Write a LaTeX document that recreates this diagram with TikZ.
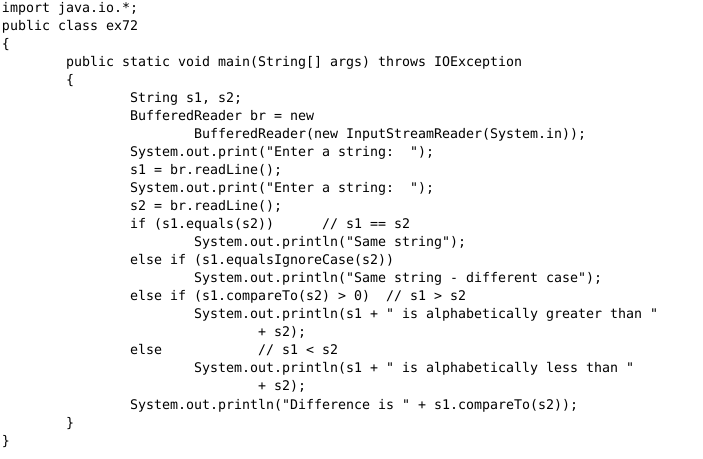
\documentclass[tikz,border=0pt]{standalone}
\usepackage{fontspec}
\newfontfamily\codefont{DejaVu Sans Mono}
\begin{document}
\begin{tikzpicture}[x=0.75pt,y=-0.75pt,
  code/.style={anchor=base west,inner sep=0pt,outer sep=0pt,text=black,
    font=\codefont\fontsize{9.97}{12}\selectfont}]
% \clip (0,0) rectangle (703,459);
\useasboundingbox (0,0) rectangle (703,459);
\fill [white] (0,0) rectangle (703,459);%

% Class header, column 0
\node [code] (imp) at (2,13) {import java.io.*;};%
\node [code] (cls) at (2,31) {public class ex72};%
\node [code] (ob) at (2,49) {\{};%

% Method header, column 8
\node [code] (mainh) at (66,67) {public static void main(String[] args) throws IOException};%
\node [code] (mob) at (66,85) {\{};%

% Reading the two strings, column 16
\node [code] (decl) at (130,103) {String s1, s2;};%
\node [code] (brd) at (130,121) {BufferedReader br = new};%
\node [code] (brn) at (194,139) {BufferedReader(new InputStreamReader(System.in));};%
\node [code] (pra) at (130,157) {System.out.print("Enter a string:\ \ ");};%
\node [code] (rda) at (130,175) {s1 = br.readLine();};%
\node [code] (prb) at (130,193) {System.out.print("Enter a string:\ \ ");};%
\node [code] (rdb) at (130,211) {s2 = br.readLine();};%

% Comparing, column 16 and 24
\node [code] (ifa) at (130,229) {if (s1.equals(s2))};%
\node [code] (cma) at (322,229) {// s1 == s2};%
\node [code] (outa) at (194,247) {System.out.println("Same string");};%
\node [code] (ifb) at (130,265) {else if (s1.equalsIgnoreCase(s2))};%
\node [code] (outb) at (194,283) {System.out.println("Same string - different case");};%
\node [code] (ifc) at (130,301) {else if (s1.compareTo(s2) > 0)};%
\node [code] (cmc) at (386,301) {// s1 > s2};%
\node [code] (outc) at (194,319) {System.out.println(s1 + " is alphabetically greater than "};%
\node [code] (plc) at (258,337) {+ s2);};%
\node [code] (els) at (130,355) {else};%
\node [code] (cmd) at (258,355) {// s1 < s2};%
\node [code] (outd) at (194,373) {System.out.println(s1 + " is alphabetically less than "};%
\node [code] (pld) at (258,391) {+ s2);};%
\node [code] (dif) at (130,409) {System.out.println("Difference is " + s1.compareTo(s2));};%

% Closing braces
\node [code] (mcb) at (66,427) {\}};%
\node [code] (cb) at (2,445) {\}};%
\end{tikzpicture}
\end{document}
